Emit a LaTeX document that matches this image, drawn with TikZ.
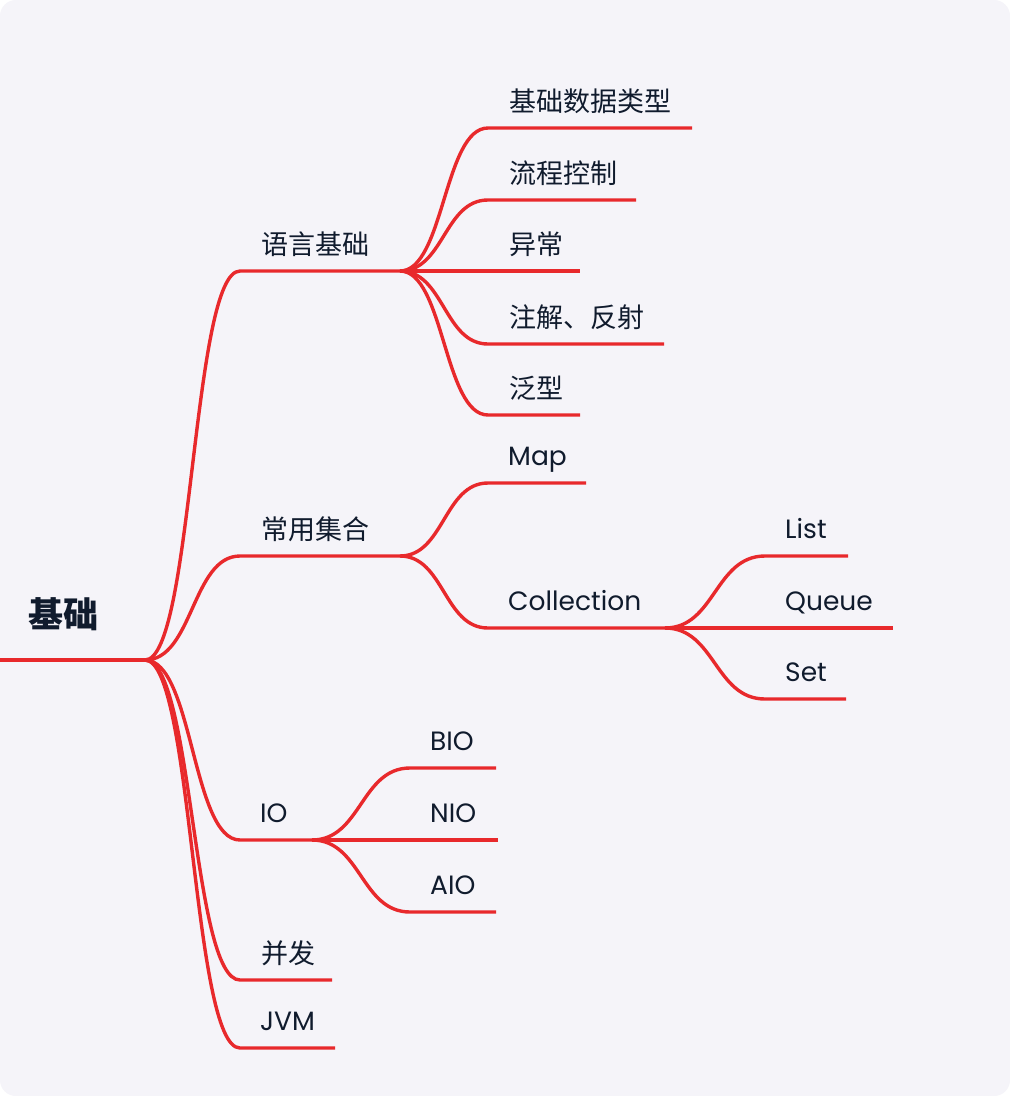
\documentclass[tikz,border=0pt]{standalone}
\usepackage{fontspec}
\setmainfont{Poppins}
\newfontfamily\cjk{Noto Sans CJK SC}
\usetikzlibrary{positioning, calc}

\definecolor{mapred}{HTML}{E8292C}
\definecolor{mapink}{HTML}{101B2D}
\definecolor{mapback}{HTML}{F5F4F9}

\begin{document}
\begin{tikzpicture}[x=1pt, y=-1pt,
  branch/.style={draw=mapred, line width=3.4pt},
  cnlabel/.style={anchor=base west, inner sep=0pt, text=mapink, font=\cjk\fontsize{27}{27}\selectfont},
  enlabel/.style={anchor=base west, inner sep=0pt, text=mapink, font=\fontsize{26.5}{26.5}\selectfont}]
\useasboundingbox (0,0) rectangle (1010,1096);
\fill[white] (0,0) rectangle (1010,1096);
\fill[mapback, rounded corners=16pt] (0,0) rectangle (1010,1096);

% root
\coordinate (root-s) at (0,660);
\coordinate (root-e) at (145,660);
\node[anchor=base west, inner sep=0pt, text=mapink, font=\cjk\bfseries\fontsize{35}{35}\selectfont] (root) at (28,627) {基础};
\draw[branch] (root-s) -- (root-e);

% first level
\coordinate (yyjc-s) at (240,271);
\coordinate (yyjc-e) at (400,271);
\coordinate (cyjh-s) at (240,556);
\coordinate (cyjh-e) at (400,556);
\coordinate (io-s) at (240,840);
\coordinate (io-e) at (312,840);
\coordinate (bf-s) at (240,980);
\coordinate (bf-e) at (332,980);
\coordinate (jvm-s) at (240,1048);
\coordinate (jvm-e) at (335,1048);

\node[cnlabel] (yyjc) at ($(yyjc-s)+(21,-17)$) {语言基础};
\node[cnlabel] (cyjh) at ($(cyjh-s)+(21,-17)$) {常用集合};
\node[enlabel] (io) at ($(io-s)+(20,-18)$) {IO};
\node[cnlabel] (bf) at ($(bf-s)+(21,-17)$) {并发};
\node[enlabel] (jvm) at ($(jvm-s)+(20,-18)$) {JVM};

\draw[branch] (root-e) .. controls +(48,0) and +(-48,0) .. (yyjc-s) -- (yyjc-e);
\draw[branch] (root-e) .. controls +(48,0) and +(-48,0) .. (cyjh-s) -- (cyjh-e);
\draw[branch] (root-e) .. controls +(48,0) and +(-48,0) .. (io-s) -- (io-e);
\draw[branch] (root-e) .. controls +(48,0) and +(-48,0) .. (bf-s) -- (bf-e);
\draw[branch] (root-e) .. controls +(48,0) and +(-48,0) .. (jvm-s) -- (jvm-e);

% language basics
\coordinate (sjlx-s) at (488,128);
\coordinate (sjlx-e) at (692,128);
\coordinate (lckz-s) at (488,200);
\coordinate (lckz-e) at (636,200);
\coordinate (yc-s) at (488,271);
\coordinate (yc-e) at (580,271);
\coordinate (zjfs-s) at (488,344);
\coordinate (zjfs-e) at (664,344);
\coordinate (fx-s) at (488,415);
\coordinate (fx-e) at (580,415);

\node[cnlabel] (sjlx) at ($(sjlx-s)+(21,-17)$) {基础数据类型};
\node[cnlabel] (lckz) at ($(lckz-s)+(21,-17)$) {流程控制};
\node[cnlabel] (yc) at ($(yc-s)+(21,-17)$) {异常};
\node[cnlabel] (zjfs) at ($(zjfs-s)+(21,-17)$) {注解、反射};
\node[cnlabel] (fx) at ($(fx-s)+(21,-17)$) {泛型};

\draw[branch] (yyjc-e) .. controls +(44,0) and +(-44,0) .. (sjlx-s) -- (sjlx-e);
\draw[branch] (yyjc-e) .. controls +(44,0) and +(-44,0) .. (lckz-s) -- (lckz-e);
\draw[branch] (yyjc-e) -- (yc-s) -- (yc-e);
\draw[branch] (yyjc-e) .. controls +(44,0) and +(-44,0) .. (zjfs-s) -- (zjfs-e);
\draw[branch] (yyjc-e) .. controls +(44,0) and +(-44,0) .. (fx-s) -- (fx-e);

% collections
\coordinate (map-s) at (488,483);
\coordinate (map-e) at (586,483);
\coordinate (coll-s) at (488,628);
\coordinate (coll-e) at (665,628);

\node[enlabel] (map) at ($(map-s)+(20,-18)$) {Map};
\node[enlabel] (coll) at ($(coll-s)+(20,-18)$) {Collection};

\draw[branch] (cyjh-e) .. controls +(44,0) and +(-44,0) .. (map-s) -- (map-e);
\draw[branch] (cyjh-e) .. controls +(44,0) and +(-44,0) .. (coll-s) -- (coll-e);

\coordinate (list-s) at (765,556);
\coordinate (list-e) at (848,556);
\coordinate (queue-s) at (765,628);
\coordinate (queue-e) at (893,628);
\coordinate (set-s) at (765,699);
\coordinate (set-e) at (846,699);

\node[enlabel] (list) at ($(list-s)+(20,-18)$) {List};
\node[enlabel] (queue) at ($(queue-s)+(20,-18)$) {Queue};
\node[enlabel] (set) at ($(set-s)+(20,-18)$) {Set};

\draw[branch] (coll-e) .. controls +(50,0) and +(-50,0) .. (list-s) -- (list-e);
\draw[branch] (coll-e) -- (queue-s) -- (queue-e);
\draw[branch] (coll-e) .. controls +(50,0) and +(-50,0) .. (set-s) -- (set-e);

% io
\coordinate (bio-s) at (410,768);
\coordinate (bio-e) at (496,768);
\coordinate (nio-s) at (410,840);
\coordinate (nio-e) at (498,840);
\coordinate (aio-s) at (410,912);
\coordinate (aio-e) at (496,912);

\node[enlabel] (bio) at ($(bio-s)+(20,-18)$) {BIO};
\node[enlabel] (nio) at ($(nio-s)+(20,-18)$) {NIO};
\node[enlabel] (aio) at ($(aio-s)+(20,-18)$) {AIO};

\draw[branch] (io-e) .. controls +(49,0) and +(-49,0) .. (bio-s) -- (bio-e);
\draw[branch] (io-e) -- (nio-s) -- (nio-e);
\draw[branch] (io-e) .. controls +(49,0) and +(-49,0) .. (aio-s) -- (aio-e);
\end{tikzpicture}
\end{document}
